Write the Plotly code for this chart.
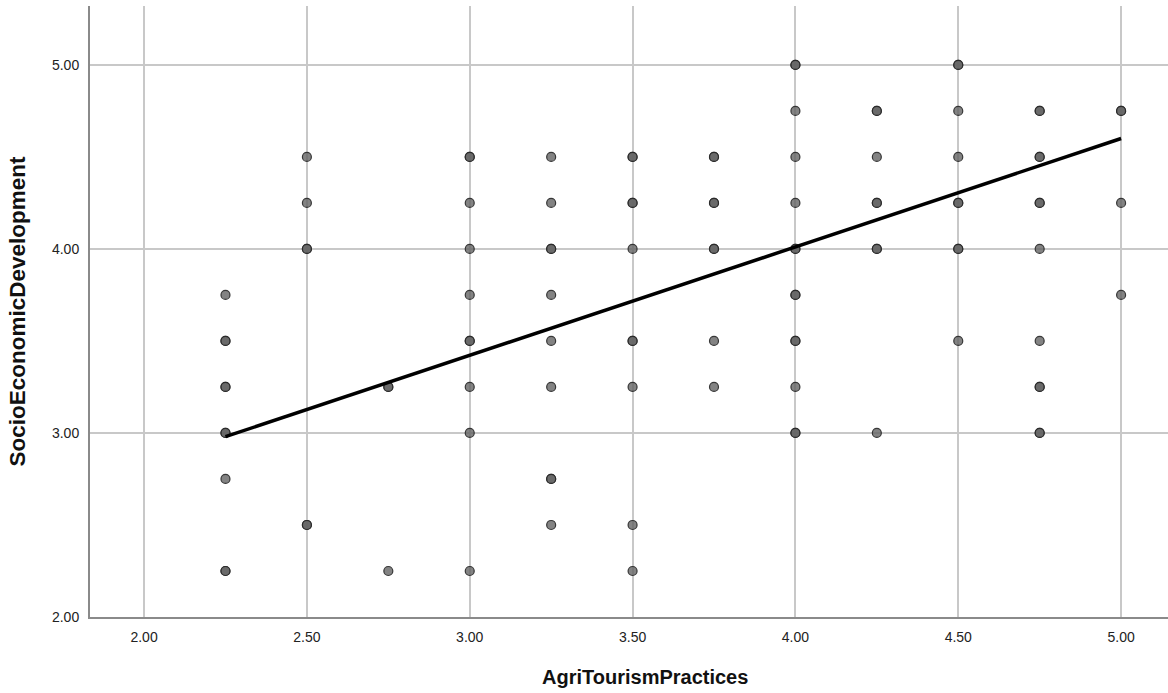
import plotly.graph_objects as go

# Scatter data (duplicate entries represent overlapping cases, drawn darker)
x_vals = [
    2.25, 2.25, 2.25, 2.25, 2.25, 2.25, 2.25, 2.25, 2.25, 2.25,
    2.50, 2.50, 2.50, 2.50, 2.50, 2.50,
    2.75, 2.75, 2.75,
    3.00, 3.00, 3.00, 3.00, 3.00, 3.00, 3.00, 3.00, 3.00, 3.00,
    3.25, 3.25, 3.25, 3.25, 3.25, 3.25, 3.25, 3.25, 3.25, 3.25,
    3.50, 3.50, 3.50, 3.50, 3.50, 3.50, 3.50, 3.50, 3.50, 3.50,
    3.75, 3.75, 3.75, 3.75, 3.75, 3.75, 3.75, 3.75,
    4.00, 4.00, 4.00, 4.00, 4.00, 4.00, 4.00, 4.00, 4.00, 4.00, 4.00, 4.00, 4.00, 4.00,
    4.25, 4.25, 4.25, 4.25, 4.25, 4.25, 4.25, 4.25,
    4.50, 4.50, 4.50, 4.50, 4.50, 4.50, 4.50, 4.50, 4.50,
    4.75, 4.75, 4.75, 4.75, 4.75, 4.75, 4.75, 4.75, 4.75, 4.75, 4.75, 4.75,
    5.00, 5.00, 5.00, 5.00,
]
y_vals = [
    3.75, 3.50, 3.50, 3.25, 3.25, 3.00, 3.00, 2.75, 2.25, 2.25,
    4.50, 4.25, 4.00, 4.00, 2.50, 2.50,
    3.25, 3.25, 2.25,
    4.50, 4.50, 4.25, 4.00, 3.75, 3.50, 3.50, 3.25, 3.00, 2.25,
    4.50, 4.25, 4.00, 4.00, 3.75, 3.50, 3.25, 2.75, 2.75, 2.50,
    4.50, 4.50, 4.25, 4.25, 4.00, 3.50, 3.50, 3.25, 2.50, 2.25,
    4.50, 4.50, 4.25, 4.25, 4.00, 4.00, 3.50, 3.25,
    5.00, 5.00, 4.75, 4.50, 4.25, 4.00, 4.00, 3.75, 3.75, 3.50, 3.50, 3.25, 3.00, 3.00,
    4.75, 4.75, 4.50, 4.25, 4.25, 4.00, 4.00, 3.00,
    5.00, 5.00, 4.75, 4.50, 4.25, 4.25, 4.00, 4.00, 3.50,
    4.75, 4.75, 4.50, 4.50, 4.25, 4.25, 4.00, 3.50, 3.25, 3.25, 3.00, 3.00,
    4.75, 4.75, 4.25, 3.75,
]

# Fit line
fit_x = [2.25, 5.00]
fit_y = [2.98, 4.60]

x_ticks = [2.0, 2.5, 3.0, 3.5, 4.0, 4.5, 5.0]
x_tick_labels = ["2.00", "2.50", "3.00", "3.50", "4.00", "4.50", "5.00"]
y_ticks = [2.0, 3.0, 4.0, 5.0]
y_tick_labels = ["2.00", "3.00", "4.00", "5.00"]

x_title = "AgriTourismPractices"
y_title = "SocioEconomicDevelopment"

fig = go.Figure()
fig.add_trace(go.Scatter(
    x=x_vals, y=y_vals, mode="markers",
    marker=dict(size=9, color="rgba(100,100,100,0.8)",
                line=dict(color="rgba(40,40,40,0.9)", width=1.2)),
    showlegend=False, hoverinfo="x+y",
))
fig.add_trace(go.Scatter(
    x=fit_x, y=fit_y, mode="lines",
    line=dict(color="black", width=3.5),
    showlegend=False,
))

font_family = "Liberation Sans, Arial, sans-serif"
fig.update_layout(
    width=1168, height=693,
    margin=dict(l=90, r=0, t=6, b=76, autoexpand=False),
    paper_bgcolor="white", plot_bgcolor="white",
    font=dict(family=font_family, color="#222222"),
    xaxis=dict(
        range=[1.834, 5.144], automargin=False,
        tickvals=x_ticks, ticktext=x_tick_labels,
        tickfont=dict(size=14, color="#222222"),
        showgrid=True, gridcolor="#c8c8c8", gridwidth=1.5,
        showline=True, linecolor="#8a8a8a", linewidth=2,
        zeroline=False, ticks="", ticklabelstandoff=6,
    ),
    yaxis=dict(
        range=[2.0, 5.32], automargin=False,
        tickvals=y_ticks, ticktext=y_tick_labels,
        tickfont=dict(size=14, color="#222222"),
        showgrid=True, gridcolor="#c8c8c8", gridwidth=1.5,
        showline=True, linecolor="#8a8a8a", linewidth=2,
        zeroline=False, ticks="", ticklabelstandoff=6,
        title=dict(text="<b>" + y_title + "</b>", font=dict(size=22.5, color="#111111"), standoff=20),
    ),
    annotations=[dict(
        text="<b>" + x_title + "</b>", xref="paper", yref="paper",
        x=0.515, y=0, xanchor="center", yanchor="middle", yshift=-60,
        showarrow=False, font=dict(size=20, color="#111111"),
    )],
)

fig.write_html("out.html", post_script="document.body.style.margin='0';",
               config={"displayModeBar": False})
